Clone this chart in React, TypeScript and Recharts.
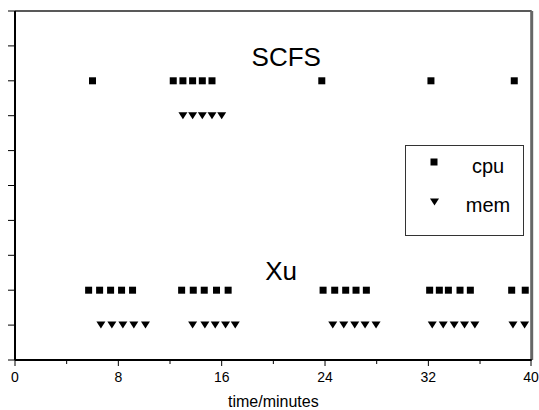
import React from 'react';
import { ScatterChart, Scatter, XAxis, YAxis, ReferenceLine, Legend } from 'recharts';

// ---- data ----
const scfsCpuTimes = [6, 12.25, 13, 13.75, 14.5, 15.25, 23.75, 32.2, 38.65];
const scfsMemTimes = [13, 13.75, 14.5, 15.25, 16];
const xuCpuTimes = [5.7, 6.55, 7.4, 8.25, 9.1, 12.9, 13.8, 14.65, 15.6, 16.5, 23.85, 24.75, 25.6, 26.4, 27.2, 32.1, 32.85, 33.55, 34.45, 35.25, 38.45, 39.5];
const xuMemTimes = [6.65, 7.5, 8.35, 9.2, 10.1, 13.75, 14.7, 15.5, 16.3, 17.05, 24.6, 25.45, 26.3, 27.1, 27.95, 32.3, 33.15, 34.0, 34.8, 35.6, 38.55, 39.45];
const scfsCpuLevel = 8;
const scfsMemLevel = 7;
const xuCpuLevel = 2;
const xuMemLevel = 1;
const xDomain = [0, 40];
const yDomain = [0, 10];
const xTicks = [0, 4, 8, 12, 16, 20, 24, 28, 32, 36, 40];
const xLabeledTicks = [0, 8, 16, 24, 32, 40];
const yTicks = [0, 1, 2, 3, 4, 5, 6, 7, 8, 9, 10];
const legendItems = ['cpu', 'mem'];
const groupLabels = [
  { text: 'SCFS', t: 21, v: 8.43 },
  { text: 'Xu', t: 20.6, v: 2.29 },
];

const scfsCpu = scfsCpuTimes.map((t) => ({ t, v: scfsCpuLevel }));
const scfsMem = scfsMemTimes.map((t) => ({ t, v: scfsMemLevel }));
const xuCpu = xuCpuTimes.map((t) => ({ t, v: xuCpuLevel }));
const xuMem = xuMemTimes.map((t) => ({ t, v: xuMemLevel }));

const FONT = 'Arial, "Liberation Sans", sans-serif';

const Square = (props: any) => {
  const { cx, cy } = props;
  if (cx == null || cy == null) return <g />;
  return <rect x={cx - 3.5} y={cy - 3.5} width={7} height={7} fill="#000" />;
};

const Tri = (props: any) => {
  const { cx, cy } = props;
  if (cx == null || cy == null) return <g />;
  return (
    <polygon
      points={`${cx - 4.5},${cy - 3.5} ${cx + 4.5},${cy - 3.5} ${cx},${cy + 3.5}`}
      fill="#000"
    />
  );
};

const GroupText = (props: any) => {
  const { cx, cy, payload } = props;
  if (cx == null || cy == null) return <g />;
  return (
    <text x={cx} y={cy} textAnchor="middle" fontSize={26} fontFamily={FONT} fill="#000">
      {payload.text}
    </text>
  );
};

const XTick = (props: any) => {
  const { x, y, payload } = props;
  const major = xLabeledTicks.includes(payload.value);
  return (
    <g>
      <line x1={x} x2={x} y1={y} y2={y + (major ? 6 : 4)} stroke="#000" strokeWidth={1} />
      {major && (
        <text x={x} y={y + 22} textAnchor="middle" fontSize={14} fontFamily={FONT} fill="#000">
          {payload.value}
        </text>
      )}
    </g>
  );
};

const YTick = (props: any) => {
  const { x, y } = props;
  return <line x1={x - 7} x2={x} y1={y} y2={y} stroke="#000" strokeWidth={1} />;
};

const LegendBox = () => (
  <svg width={119} height={91} style={{ display: 'block' }}>
    <rect x={0.5} y={0.5} width={118} height={90} fill="none" stroke="#333" strokeWidth={1} />
    {legendItems.map((name, i) => {
      const my = i === 0 ? 17 : 57;
      const ty = i === 0 ? 28 : 67;
      return (
        <g key={name}>
          {i === 0 ? <Square cx={29} cy={my} /> : <Tri cx={29.5} cy={my} />}
          <text x={83} y={ty} textAnchor="middle" fontSize={20} fontFamily={FONT} fill="#000">
            {name}
          </text>
        </g>
      );
    })}
  </svg>
);

export default function App() {
  return (
    <div style={{ position: 'absolute', left: 0, top: 0, width: 539, height: 410 }}>
      <ScatterChart
        width={539}
        height={410}
        margin={{ top: 11, right: 7.3, left: 0, bottom: 0 }}
      >
        <XAxis
          type="number"
          dataKey="t"
          domain={xDomain}
          ticks={xTicks}
          height={50}
          tickSize={0}
          tickMargin={0}
          tickLine={false}
          tick={<XTick />}
          axisLine={{ stroke: '#000', strokeWidth: 2 }}
          label={{ value: 'time/minutes', position: 'insideBottom', offset: 3, fontSize: 16, fontFamily: FONT, fill: '#000' }}
        />
        <YAxis
          type="number"
          dataKey="v"
          domain={yDomain}
          ticks={yTicks}
          width={15}
          tickSize={0}
          tickMargin={0}
          tickLine={false}
          tick={<YTick />}
          axisLine={{ stroke: '#000', strokeWidth: 2 }}
        />
        <ReferenceLine y={10} stroke="#222" strokeWidth={1.5} ifOverflow="visible" />
        <ReferenceLine x={0} stroke="#000" strokeWidth={2} ifOverflow="visible" />
        <ReferenceLine x={40} stroke="#666" strokeWidth={3} ifOverflow="visible" />
        <Scatter name="labels" data={groupLabels} dataKey="v" shape={<GroupText />} legendType="none" isAnimationActive={false} />
        <Scatter name="cpu" data={scfsCpu} shape={<Square />} isAnimationActive={false} />
        <Scatter name="mem" data={scfsMem} shape={<Tri />} isAnimationActive={false} />
        <Scatter name="cpu" data={xuCpu} shape={<Square />} isAnimationActive={false} />
        <Scatter name="mem" data={xuMem} shape={<Tri />} isAnimationActive={false} />
        <Legend
          layout="horizontal"
          verticalAlign="middle"
          align="center"
          wrapperStyle={{ position: 'absolute', left: 405, top: 145, width: 119, height: 91 }}
          content={() => <LegendBox />}
        />
      </ScatterChart>
    </div>
  );
}
